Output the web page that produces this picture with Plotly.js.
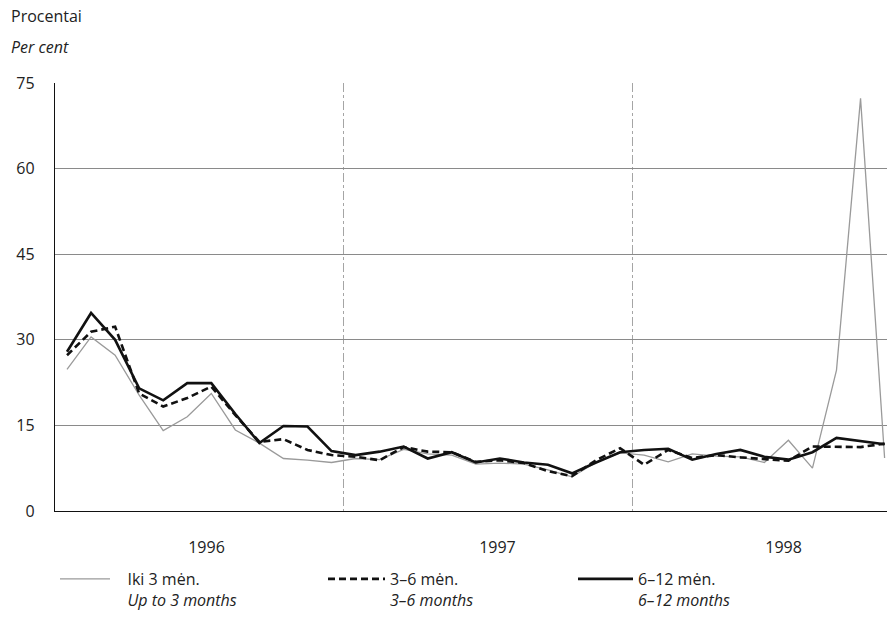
<!DOCTYPE html>
<html>
<head>
<meta charset="utf-8">
<script src="https://cdn.plot.ly/plotly-3.0.1.min.js"></script>
<style>
  html, body { margin: 0; padding: 0; background: #fff; }
  #chart { width: 887px; height: 637px; }
</style>
</head>
<body>
<div id="chart"></div>
<script>
// Months Jan 1996 .. Nov 1998 (index 0..34), plotted at mid-month
const months = [
  "1996-01","1996-02","1996-03","1996-04","1996-05","1996-06","1996-07","1996-08","1996-09","1996-10","1996-11","1996-12",
  "1997-01","1997-02","1997-03","1997-04","1997-05","1997-06","1997-07","1997-08","1997-09","1997-10","1997-11","1997-12",
  "1998-01","1998-02","1998-03","1998-04","1998-05","1998-06","1998-07","1998-08","1998-09","1998-10","1998-11"
];
// Up to 3 months
const upTo3 = [24.8, 30.5, 27.3, 20.3, 14.1, 16.5, 20.6, 14.2, 11.9, 9.2, 8.9, 8.5,
               9.2, 9.0, 10.8, 10.0, 9.8, 8.2, 8.4, 8.2, 7.2, 6.0, 8.5, 10.2,
               9.8, 8.6, 10.0, 9.6, 9.5, 8.5, 12.4, 7.5, 24.7, 72.3, 9.3];
// 3-6 months
const m3to6 = [27.3, 31.4, 32.3, 20.6, 18.3, 19.8, 21.8, 16.8, 12.1, 12.6, 10.7, 9.8,
               9.5, 8.9, 11.2, 10.4, 10.3, 8.6, 8.9, 8.4, 7.0, 6.1, 8.9, 11.0,
               8.1, 10.7, 9.3, 9.8, 9.4, 9.1, 8.8, 11.3, 11.3, 11.2, 11.8];
// 6-12 months
const m6to12 = [27.9, 34.7, 30.0, 21.5, 19.4, 22.4, 22.4, 17.0, 11.9, 14.9, 14.8, 10.5,
                9.8, 10.4, 11.3, 9.2, 10.3, 8.5, 9.2, 8.5, 8.1, 6.6, 8.5, 10.3,
                10.7, 10.9, 9.0, 10.0, 10.7, 9.5, 9.0, 10.3, 12.8, 12.3, 11.7];

const yearLabels = ["1996", "1997", "1998"];
const yearLabelPos = [6.3, 18.4, 30.3];
const yTicks = [0, 15, 30, 45, 60, 75];

const xPos = months.map((m, i) => i + 0.5);

const FONT = "Open Sans, Lato, sans-serif";
const W = 887, H = 637;
const M = {l: 55, r: 0, t: 83, b: 126};
const px2x = p => (p - M.l) / (W - M.l - M.r);
const px2y = p => (H - M.b - p) / (H - M.t - M.b);
const NB = "\u00a0\u00a0\u00a0";

const traces = [
  {x: xPos, y: upTo3, type: "scatter", mode: "lines", legend: "legend",
   name: NB + "Iki 3 mėn.<br>" + NB + "<i>Up to 3 months</i>",
   line: {color: "#9a9a9a", width: 1.3}},
  {x: xPos, y: m3to6, type: "scatter", mode: "lines", legend: "legend2",
   name: "3–6 mėn.<br><i>3–6 months</i>",
   line: {color: "#111", width: 2.6, dash: "7px,4px"}},
  {x: xPos, y: m6to12, type: "scatter", mode: "lines", legend: "legend3",
   name: "6–12 mėn.<br><i>6–12 months</i>",
   line: {color: "#111", width: 2.6}}
];

function legendAt(px, itemw) {
  return {
    orientation: "v",
    x: px2x(px), xanchor: "left",
    y: px2y(562), yanchor: "top",
    font: {family: FONT, size: 16, color: "#222"},
    itemwidth: itemw,
    valign: "top",
    bgcolor: "rgba(0,0,0,0)"
  };
}

const layout = {
  width: W, height: H,
  margin: M,
  paper_bgcolor: "#fff", plot_bgcolor: "#fff",
  font: {family: FONT, size: 16, color: "#222"},
  showlegend: true,
  legend: legendAt(55, 50),
  legend2: legendAt(323, 57),
  legend3: legendAt(573, 55),
  xaxis: {
    range: [0, 34.6],
    tickmode: "array", tickvals: yearLabelPos, ticktext: yearLabels,
    ticks: "", showgrid: false, zeroline: false,
    showline: true, linecolor: "#111", linewidth: 1.2,
    ticklabelstandoff: 22,
    tickfont: {family: FONT, size: 16, color: "#222"},
    minor: {tick0: 0, dtick: 12, showgrid: true, gridcolor: "#a5a5a5", gridwidth: 1, griddash: "dashdot", ticks: ""},
    fixedrange: true
  },
  yaxis: {
    range: [0, 75],
    tickmode: "array", tickvals: yTicks,
    ticks: "", showgrid: true, gridcolor: "#8a8a8a", gridwidth: 1,
    zeroline: false,
    showline: true, linecolor: "#111", linewidth: 1.2,
    ticklabelstandoff: 16,
    tickfont: {family: FONT, size: 16, color: "#222"},
    fixedrange: true
  },
  annotations: [
    {text: "Procentai", xref: "paper", yref: "paper", x: px2x(9), y: px2y(16),
     xanchor: "left", yanchor: "middle", showarrow: false,
     font: {family: FONT, size: 16, color: "#222"}},
    {text: "<i>Per cent</i>", xref: "paper", yref: "paper", x: px2x(9), y: px2y(47),
     xanchor: "left", yanchor: "middle", showarrow: false,
     font: {family: FONT, size: 16, color: "#222"}}
  ]
};

Plotly.newPlot("chart", traces, layout, {displayModeBar: false, staticPlot: true});
</script>
</body>
</html>
